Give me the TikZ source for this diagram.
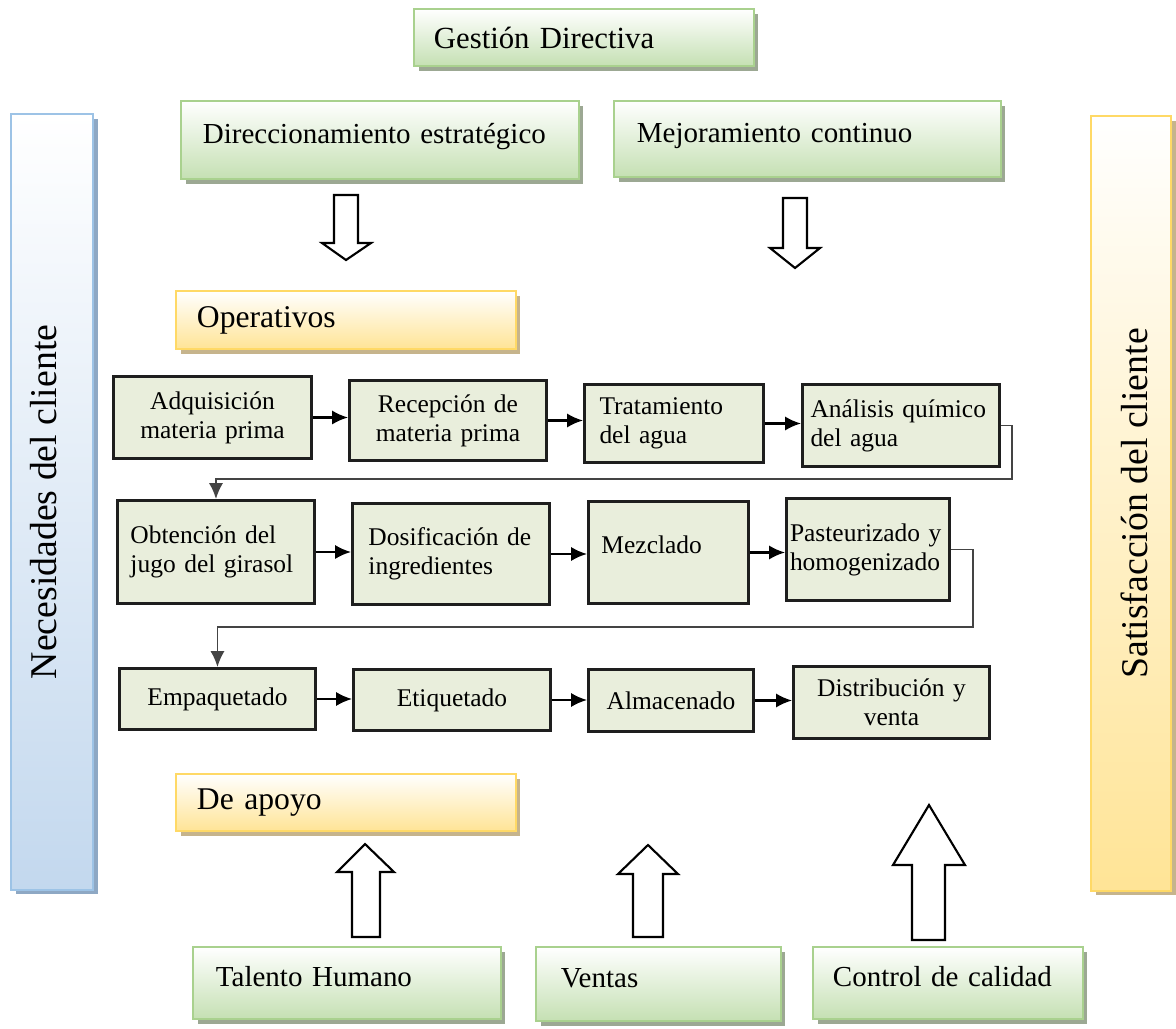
\documentclass[tikz,border=0pt]{standalone}
\usepackage{fontspec}
\setmainfont{Liberation Serif}
\usetikzlibrary{arrows.meta,shadows}

\definecolor{greenline}{HTML}{A9D18E}
\definecolor{greenfill}{HTML}{C5E0B3}
\definecolor{greenshade}{HTML}{9CA893}
\definecolor{yellowline}{HTML}{FFD966}
\definecolor{yellowfill}{HTML}{FFE496}
\definecolor{yellowshade}{HTML}{C6B48C}
\definecolor{blueline}{HTML}{9DC3E6}
\definecolor{bluefill}{HTML}{C3D8EE}
\definecolor{blueshade}{HTML}{8EA8C4}
\definecolor{stagefill}{HTML}{E9EEDC}
\definecolor{stageline}{HTML}{1E1E1E}
\definecolor{returngray}{HTML}{444444}

\begin{document}
\begin{tikzpicture}[x=0.02cm, y=-0.02cm,
    panel/.style={anchor=north west, line width=1.1pt, align=left},
    greenpanel/.style={panel, draw=greenline, top color=white, bottom color=greenfill,
        drop shadow={shadow xshift=2.6pt, shadow yshift=-2.6pt, fill=greenshade, opacity=1},
        font=\fontsize{16.5}{19}\selectfont},
    yellowpanel/.style={panel, draw=yellowline, top color=white, bottom color=yellowfill,
        drop shadow={shadow xshift=2.6pt, shadow yshift=-2.6pt, fill=yellowshade, opacity=1},
        font=\fontsize{18}{21}\selectfont},
    bluepanel/.style={panel, draw=blueline, top color=white, bottom color=bluefill,
        drop shadow={shadow xshift=2.6pt, shadow yshift=-2.6pt, fill=blueshade, opacity=1}},
    sidetext/.style={rotate=90, font=\fontsize{21.5}{24}\selectfont},
    stage/.style={anchor=north west, draw=stageline, fill=stagefill, line width=1.7pt,
        inner xsep=0pt, inner ysep=0pt, font=\fontsize{14.5}{16.5}\selectfont},
    flow/.style={line width=1.2pt, -{Latex[length=9pt,width=8pt]}},
    returnline/.style={draw=returngray, line width=1pt, -{Latex[length=9pt,width=8pt]}},
    blockarrow/.style={draw=black, line width=1.2pt, fill=white, line join=miter}]
  \useasboundingbox (0,0) rectangle (1176,1028);

  % Side bars
  \node[bluepanel, minimum width=1.64cm, minimum height=15.52cm] (needs) at (10,113) {};%
  \node[sidetext] at ([xshift=-5pt]needs.center) {Necesidades del cliente};%
  \node[yellowpanel, minimum width=1.6cm, minimum height=15.5cm] (satis) at (1090,115) {};%
  \node[sidetext] at ([xshift=2pt]satis.center) {Satisfacción del cliente};%

  % Management boxes
  \node[greenpanel, minimum width=6.8cm, minimum height=1.14cm, text width=6.0cm,
        font=\fontsize{17.5}{20}\selectfont] (gest) at (413,8) {Gestión Directiva};%
  \node[greenpanel, minimum width=7.96cm, minimum height=1.56cm, text width=7.08cm, text depth=7pt] (direc) at (180,100) {Direccionamiento estratégico};%
  \node[greenpanel, minimum width=7.74cm, minimum height=1.52cm, text width=6.82cm, text depth=7pt] (mejora) at (613,100) {Mejoramiento continuo};%

  % Block arrows down
  \draw[blockarrow] (334,195) -- (358,195) -- (358,243) -- (371,243) -- (346,260) -- (322,243) -- (334,243) -- cycle;%
  \draw[blockarrow] (783,198) -- (807,198) -- (807,248) -- (820,248) -- (795,268) -- (770,248) -- (783,248) -- cycle;%

  % Operative processes
  \node[yellowpanel, minimum width=6.8cm, minimum height=1.16cm, text width=5.96cm] (oper) at (175,290) {Operativos};%

  \node[stage, minimum width=3.96cm, minimum height=1.64cm, text width=3.7cm, align=center] (adq) at (112,375) {Adquisición\\materia prima};%
  \node[stage, minimum width=3.94cm, minimum height=1.6cm, text width=3.7cm, align=center] (recep) at (348,379) {Recepción de\\materia prima};%
  \node[stage, minimum width=3.58cm, minimum height=1.56cm, text width=2.98cm, align=left] (trat) at (583,383) {Tratamiento\\del agua};%
  \node[stage, minimum width=3.94cm, minimum height=1.64cm, text width=3.62cm, align=left] (anal) at (801,383) {Análisis químico\\del agua};%

  \node[stage, minimum width=3.94cm, minimum height=2.06cm, text width=3.42cm, align=left] (obten) at (116,499) {Obtención del\\jugo del girasol};%
  \node[stage, minimum width=3.94cm, minimum height=2.02cm, text width=3.3cm, align=left] (dosif) at (351,502) {Dosificación de\\ingredientes};%
  \node[stage, minimum width=3.2cm, minimum height=2.04cm, text width=2.68cm, align=left, text depth=9pt] (mezcl) at (587,500) {Mezclado};%
  \node[stage, minimum width=3.26cm, minimum height=2.04cm, text width=3.12cm, align=left] (paste) at (785,497) {Pasteurizado y\\homogenizado};%

  \node[stage, minimum width=3.92cm, minimum height=1.22cm, text width=3.7cm, align=center] (empaq) at (118,667) {Empaquetado};%
  \node[stage, minimum width=3.94cm, minimum height=1.22cm, text width=3.7cm, align=center] (etiq) at (352,668) {Etiquetado};%
  \node[stage, minimum width=3.3cm, minimum height=1.24cm, text width=3.1cm, align=center] (almac) at (587,668) {Almacenado};%
  \node[stage, minimum width=3.92cm, minimum height=1.44cm, text width=3.7cm, align=center] (distr) at (792,665) {Distribución y\\venta};%

  % Flow between stages
  \draw[flow] (adq.east) -- (adq.east -| recep.west);%
  \draw[flow] (recep.east) -- (recep.east -| trat.west);%
  \draw[flow] (trat.east) -- (trat.east -| anal.west);%
  \coordinate (turn1) at (1012,479);%
  \draw[returnline] (anal.east) -| (turn1) -| (obten.north);%
  \draw[flow] (obten.east) -- (obten.east -| dosif.west);%
  \draw[flow] (dosif.east) -- (dosif.east -| mezcl.west);%
  \draw[flow] (mezcl.east) -- (mezcl.east -| paste.west);%
  \coordinate (turn2) at (973,627);%
  \draw[returnline] (paste.east) -| (turn2) -| (empaq.north);%
  \draw[flow] (empaq.east) -- (empaq.east -| etiq.west);%
  \draw[flow] (etiq.east) -- (etiq.east -| almac.west);%
  \draw[flow] (almac.east) -- (almac.east -| distr.west);%

  % Support processes
  \node[yellowpanel, minimum width=6.8cm, minimum height=1.14cm, text width=5.96cm] (apoyo) at (175,773) {De apoyo};%

  % Block arrows up
  \draw[blockarrow] (352,937) -- (380,937) -- (380,872) -- (394,872) -- (365,844) -- (337,872) -- (352,872) -- cycle;%
  \draw[blockarrow] (633,937) -- (663,937) -- (663,874) -- (678,874) -- (648,845) -- (618,874) -- (633,874) -- cycle;%
  \draw[blockarrow] (912,940) -- (945,940) -- (945,865) -- (965,865) -- (929,805) -- (893,865) -- (912,865) -- cycle;%

  \node[greenpanel, minimum width=6.16cm, minimum height=1.44cm, text width=5.24cm, text depth=7pt] (talento) at (192,946) {Talento Humano};%
  \node[greenpanel, minimum width=4.9cm, minimum height=1.48cm, text width=3.9cm, text depth=7pt] (ventas) at (535,946) {Ventas};%
  \node[greenpanel, minimum width=5.4cm, minimum height=1.44cm, text width=4.6cm, text depth=7pt] (calidad) at (812,946) {Control de calidad};%
\end{tikzpicture}
\end{document}
